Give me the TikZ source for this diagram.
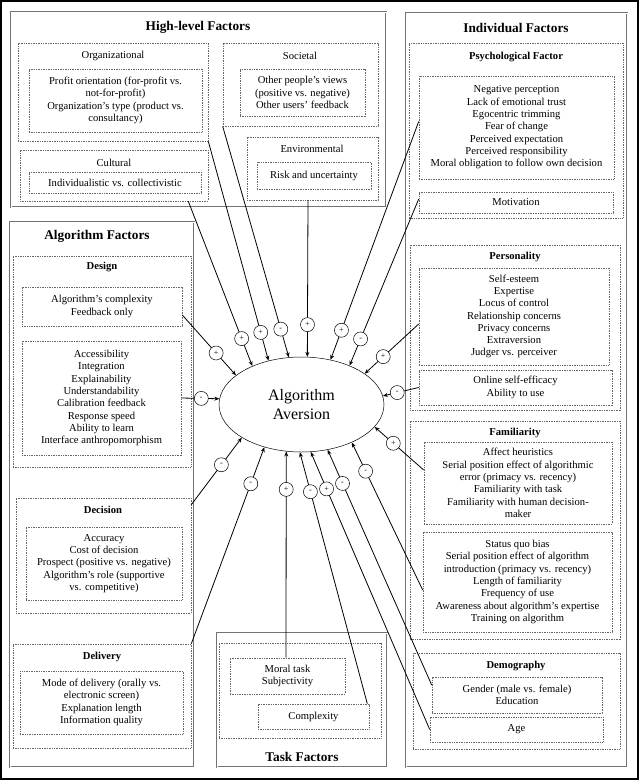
\documentclass[tikz,border=0pt]{standalone}
\usepackage{fontspec}
\setmainfont{Liberation Serif}
\usetikzlibrary{arrows.meta,shapes.geometric}

\begin{document}
\begin{tikzpicture}[x=1pt,y=-1pt,
	grp/.style={draw=black!55,double,double distance=0.9pt,line width=0.4pt,inner sep=0pt},
	sub/.style={draw=black!60,dash pattern=on 1pt off 0.7pt,line width=0.6pt,inner sep=0pt},
	item/.style={sub,align=center,font=\fontsize{10.6}{12.3}\selectfont},
	lab/.style={font=\fontsize{10.6}{12}\selectfont},
	blab/.style={font=\fontsize{10.6}{12}\selectfont\bfseries},
	ttl/.style={font=\fontsize{13.3}{15}\selectfont\bfseries},
	sign/.style={circle,draw,fill=white,inner sep=0pt,minimum size=14pt,line width=0.5pt,font=\fontsize{8}{8}\selectfont},
	arr/.style={-{Stealth[length=5pt,width=4pt]},line width=0.8pt}]
		\useasboundingbox (0,0) rectangle (639,780);
		\draw[line width=2pt] (1,1) rectangle (638,779);
		% high-level factors
		\node[grp,minimum width=375,minimum height=195] (high) at (198.5,109.5) {};
		\node[ttl] (highttl) at (198,27) {High-level Factors};
		\node[sub,minimum width=190,minimum height=98] (org) at (113,92) {};
		\node[lab] (orglab) at (113,56) {Organizational};
		\node[item,minimum width=173,minimum height=63] (orgin) at (115.5,100.5) {Profit orientation (for-profit vs.\\not-for-profit)\\Organization's type (product vs.\\consultancy)};
		\node[sub,minimum width=155,minimum height=83] (soc) at (300.5,84.5) {};
		\node[lab] (soclab) at (300,56) {Societal};
		\node[item,minimum width=125,minimum height=47] (socin) at (302.5,92.5) {Other people's views\\(positive vs. negative)\\Other users' feedback};
		\node[sub,minimum width=131,minimum height=63] (env) at (312.5,168.5) {};
		\node[lab] (envlab) at (312,149) {Environmental};
		\node[item,minimum width=114,minimum height=27] (envin) at (314,175.5) {Risk and uncertainty};
		\node[sub,minimum width=188,minimum height=51] (cult) at (114,175.5) {};
		\node[lab] (cultlab) at (114,163) {Cultural};
		\node[item,minimum width=172,minimum height=21] (cultin) at (115,182.5) {Individualistic vs. collectivistic};
		% individual factors
		\node[grp,minimum width=221,minimum height=754] (indiv) at (516.5,390) {};
		\node[ttl] (indivttl) at (516,28) {Individual Factors};
		\node[sub,minimum width=214,minimum height=175] (psy) at (516,130.5) {};
		\node[blab] (psylab) at (516,57) {Psychological Factor};
		\node[item,minimum width=195,minimum height=103] (psyin) at (516.5,127.5) {Negative perception\\Lack of emotional trust\\Egocentric trimming\\Fear of change\\Perceived expectation\\Perceived responsibility\\Moral obligation to follow own decision};
		\node[item,minimum width=194,minimum height=21] (mot) at (516,202.5) {Motivation};
		\node[sub,minimum width=210,minimum height=165] (pers) at (515,327.5) {};
		\node[blab] (perslab) at (515,257) {Personality};
		\node[item,minimum width=190,minimum height=97] (persin) at (514,316.5) {Self-esteem\\Expertise\\Locus of control\\Relationship concerns\\Privacy concerns\\Extraversion\\Judger vs. perceiver};
		\node[item,minimum width=193,minimum height=35] (onl) at (515.5,387.5) {Online self-efficacy\\Ability to use};
		\node[sub,minimum width=210,minimum height=218] (fam) at (515,530) {};
		\node[blab] (famlab) at (515,433) {Familiarity};
		\node[item,minimum width=188,minimum height=82] (fam1) at (518,483) {Affect heuristics\\Serial position effect of algorithmic\\error (primacy vs. recency)\\Familiarity with task\\Familiarity with human decision-\\maker};
		\node[item,minimum width=189,minimum height=100] (fam2) at (517.5,582) {Status quo bias\\Serial position effect of algorithm\\introduction (primacy vs. recency)\\Length of familiarity\\Frequency of use\\Awareness about algorithm's expertise\\Training on algorithm};
		\node[sub,minimum width=207,minimum height=96] (demo) at (516.5,701) {};
		\node[blab] (demolab) at (516,666) {Demography};
		\node[item,minimum width=170,minimum height=36] (gen) at (517,695) {Gender (male vs. female)\\Education};
		\node[item,minimum width=173,minimum height=25] (age) at (516.5,729.5) {Age};
		% algorithm factors
		\node[grp,minimum width=184,minimum height=545] (algo) at (102,494.5) {};
		\node[ttl] (algottl) at (97,236) {Algorithm Factors};
		\node[sub,minimum width=178,minimum height=211] (des) at (102,361.5) {};
		\node[blab] (deslab) at (102,267) {Design};
		\node[item,minimum width=160,minimum height=39] (des1) at (102,306.5) {Algorithm's complexity\\Feedback only};
		\node[item,minimum width=159,minimum height=114] (des2) at (101.5,398) {Accessibility\\Integration\\Explainability\\Understandability\\Calibration feedback\\Response speed\\Ability to learn\\Interface anthropomorphism};
		\node[sub,minimum width=175,minimum height=115] (dec) at (103.5,555.5) {};
		\node[blab] (declab) at (103,510) {Decision};
		\node[item,minimum width=156,minimum height=73] (decin) at (104,563.5) {Accuracy\\Cost of decision\\Prospect (positive vs. negative)\\Algorithm's role (supportive\\vs. competitive)};
		\node[sub,minimum width=178,minimum height=104] (deliv) at (102,696) {};
		\node[blab] (delivlab) at (102,657) {Delivery};
		\node[item,minimum width=163,minimum height=63] (delivin) at (101.5,702.5) {Mode of delivery (orally vs.\\electronic screen)\\Explanation length\\Information quality};
		% task factors
		\node[grp,minimum width=170,minimum height=134] (task) at (302,700) {};
		\node[sub,minimum width=162,minimum height=95] (taskin) at (300,690.5) {};
		\node[font=\fontsize{13.3}{15}\selectfont\bfseries] (taskttl) at (302,757) {Task Factors};
		\node[item,minimum width=115,minimum height=36] (moral) at (287.5,676) {Moral task\\Subjectivity};
		\node[item,minimum width=111,minimum height=25] (cplx) at (313.5,716.5) {Complexity};
		% centre
		\node[ellipse,draw,line width=0.5pt,minimum width=165,minimum height=95,inner sep=0pt,align=center,font=\fontsize{16}{19.5}\selectfont] (aa) at (301.5,404.5) {Algorithm\\Aversion};
		% connectors
		\draw[arr] ([xshift=-20pt]cult.south east) -- node[sign,pos=0.833]{+} (aa.142);
		\draw[arr] (org.south east) -- node[sign,pos=0.871]{+} (aa.127);
		\draw[arr] (soc.south west) -- node[sign,pos=0.878]{-} (aa.105);
		\draw[arr] ([xshift=-4.5pt]env.south) -- node[sign,pos=0.794]{+} (aa.83);
		\draw[arr] ([yshift=6pt]psyin.west) -- node[sign,pos=0.876]{+} (aa.57);
		\draw[arr] ([yshift=3.5pt]mot.west) -- node[sign,pos=0.84]{-} (aa.39);
		\draw[arr] ([yshift=-7.5pt]persin.west) -- node[sign,pos=0.657]{+} (aa.26);
		\draw[arr] (onl.west) -- node[sign,pos=0.6]{-} (aa.6);
		\draw[arr] ([yshift=13pt]fam1.west) -- node[sign,pos=0.62]{+} (aa.-17);
		\draw[arr] ([yshift=-8pt]fam2.west) -- node[sign,pos=0.805]{-} (aa.-37);
		\draw[arr] ([yshift=10pt]gen.west) -- node[sign,pos=0.857]{-} (aa.-60);
		\draw[arr] (age.west) -- node[sign,pos=0.867]{+} (aa.-79);
		\draw[arr] ([xshift=-2pt]cplx.north east) -- node[sign,pos=0.843]{-} (aa.-92);
		\draw[arr] ([xshift=-1.5pt]moral.north) -- node[sign,pos=0.816]{+} (aa.-108);
		\draw[arr] (deliv.north east) -- node[sign,pos=0.814]{-} (aa.-131);
		\draw[arr] ([yshift=-7pt]dec.north east) -- node[sign,pos=0.595]{-} (aa.-151);
		\draw[arr] (des2.east) -- node[sign,pos=0.526]{-} (aa.176);
		\draw[arr] ([yshift=-8.5pt]des1.east) -- node[sign,pos=0.63]{+} (aa.156);
	\end{tikzpicture}
\end{document}
